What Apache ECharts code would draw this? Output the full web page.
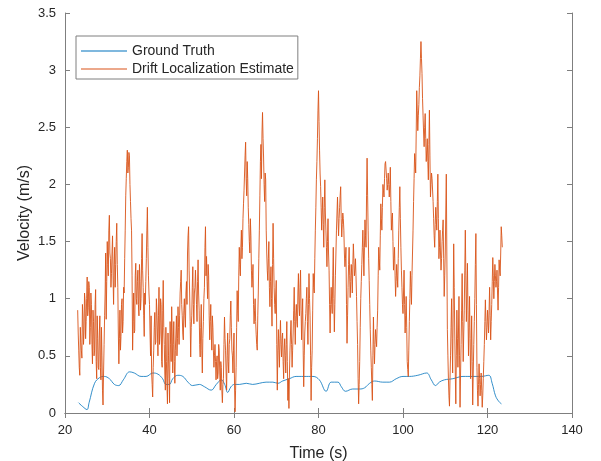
<!DOCTYPE html>
<html>
<head>
<meta charset="utf-8">
<script src="https://cdn.jsdelivr.net/npm/echarts@6/dist/echarts.min.js"></script>
<style>
html,body{margin:0;padding:0;background:#fff;}
#chart{width:601px;height:461px;}
</style>
</head>
<body>
<div id="chart"></div>
<script>
// Axis ticks
const xTicks = [20, 40, 60, 80, 100, 120, 140];
const yTicks = [0, 0.5, 1, 1.5, 2, 2.5, 3, 3.5];

// Ground truth (time s, velocity m/s)
const gtTime = [23.2, 24.2, 25.2, 25.7, 27.0, 28.2, 29.3, 30.5, 31.7, 32.7, 33.8, 35.3, 36.4, 38.0, 39.2, 40.8, 42.0, 43.1, 43.9, 44.7, 45.5, 46.7, 47.9, 49.1, 50.2, 51.8, 53.0, 54.6, 55.8, 57.0, 57.8, 58.5, 59.3, 60.1, 61.3, 62.9, 64.4, 66.0, 67.6, 69.2, 70.4, 71.5, 73.1, 74.7, 76.5, 78.7, 80.2, 81.8, 83.0, 84.6, 85.4, 86.4, 88.1, 89.7, 90.9, 92.1, 93.3, 95.2, 96.8, 98.4, 100.0, 101.5, 103.5, 105.6, 106.7, 107.7, 108.6, 109.8, 111.8, 114.2, 116.5, 118.5, 120.3, 121.1, 121.9, 122.7, 123.3];
const gtVel = [0.09, 0.056, 0.03, 0.09, 0.26, 0.31, 0.32, 0.30, 0.25, 0.24, 0.29, 0.36, 0.35, 0.32, 0.32, 0.35, 0.34, 0.30, 0.25, 0.25, 0.30, 0.33, 0.32, 0.27, 0.24, 0.25, 0.23, 0.20, 0.25, 0.29, 0.25, 0.18, 0.23, 0.25, 0.25, 0.26, 0.25, 0.26, 0.27, 0.27, 0.26, 0.28, 0.30, 0.32, 0.32, 0.32, 0.29, 0.19, 0.27, 0.27, 0.23, 0.19, 0.21, 0.21, 0.22, 0.26, 0.28, 0.27, 0.27, 0.30, 0.32, 0.32, 0.33, 0.35, 0.29, 0.24, 0.27, 0.29, 0.30, 0.32, 0.32, 0.32, 0.33, 0.26, 0.15, 0.10, 0.08];

// Drift localization estimate: samples at 23.000 + k*0.25 s
const estStartA = 23;
const estStep = 0.25;
const estVelA = [
  0.90, 0.55, 0.33, 0.62,  0.48, 0.85, 0.70, 0.98,  0.80, 1.19, 0.92, 1.10,  0.75, 0.95, 0.43, 0.80,
  0.55, 1.08, 0.30, 0.65,  0.38, 0.85, 0.29, 0.50,  0.07, 0.60, 1.05, 0.82,  1.50, 1.20, 1.73, 1.35,
  1.22, 1.55, 0.95, 1.45,  1.30, 1.66, 1.10, 0.43,  0.90, 0.67, 1.00, 0.80,  1.05, 1.60, 2.05, 2.30,
  2.15, 2.25, 1.85, 1.60,  0.55, 1.05, 0.72, 1.31,  0.95, 1.25, 0.85, 1.15,  1.00, 1.57, 1.10, 0.67,
  0.95, 1.35, 1.80, 1.20,  0.95, 0.50, 0.35, 0.14,  0.55, 0.88, 0.62, 0.90,  0.50, 1.10, 0.70, 0.95,
  0.40, 1.16, 0.60, 0.20,  0.45, 0.08, 0.50, 0.09,  0.60, 0.93, 0.35, 0.80,  0.26, 0.70, 0.50, 0.93,
  0.60, 1.05, 1.25, 0.85,  0.64, 1.00, 0.75, 1.15,  1.40, 1.63, 1.05, 0.49,  0.85, 1.28, 0.78, 1.10,
  1.25, 0.80, 1.34, 0.90,  0.49, 0.95, 0.35, 0.80,  1.10, 1.63, 1.37, 1.00,  1.20, 0.64, 0.95, 0.55,
  0.75, 0.40, 0.60, 0.29,  0.50, 0.35, 0.55, 0.20,  0.40, 0.09, 0.30, 0.84,  0.55, 0.20, 0.70, 0.35,
  0.65, 0.98, 0.55, 0.35,  0.70, 0.01, 0.40, 1.07,  0.80, 1.45, 1.20, 1.60,  1.45, 1.83, 2.10, 2.37,
  1.90, 2.05, 1.65, 1.40,  1.55, 1.10, 1.30, 0.78,  1.00, 0.69, 0.55, 1.05,  1.60, 2.20, 2.05, 2.63,
  2.24, 1.85, 2.04, 1.40,  1.16, 1.50, 0.93, 1.28,  0.76, 1.66, 1.10, 0.87,  1.16, 0.20, 0.73, 0.40,
  0.81, 0.49, 0.70, 0.30,  0.65, 0.35, 0.80, 0.11,  0.04, 0.55, 0.81, 0.40,  0.70, 1.10, 0.60, 0.95,
  0.75, 1.22, 0.85, 1.25,  0.64, 1.00, 0.23, 0.70,  0.87, 1.10, 0.60, 1.22,  0.85, 0.11, 0.55, 1.22,
  1.05, 1.60, 2.04, 2.40,  2.82, 2.30, 1.98, 1.60,  1.89, 1.45, 2.04, 1.60,  1.28, 1.70, 1.25, 0.70,
  1.10, 0.87, 1.45, 0.71,  1.20, 1.60, 1.89, 1.55,  1.80, 1.98, 1.54, 1.75,  1.60, 1.28, 1.45, 0.61,
  1.10, 1.45, 1.01, 1.30,  1.05, 1.48, 1.20, 1.35,  1.02, 0.60, 0.08, 0.45,  1.00, 1.30, 1.60, 1.20,
  1.69, 1.45, 2.23, 1.60,  1.16, 0.73, 0.40, 0.11,  0.84, 0.43, 0.73, 0.58,  0.90, 1.45, 1.25, 1.83,
  1.60, 2.00, 1.89, 2.18,  2.21, 1.95, 2.10, 1.89,  2.15, 1.60, 1.75, 1.25,  1.45, 1.02, 1.30, 1.10,
  1.60, 1.98, 1.45, 1.10,  0.87, 1.25, 0.70, 1.02,  0.45, 0.32, 0.80, 1.24,  0.95, 1.40, 1.85, 2.27,
  2.10, 2.82, 2.47, 2.70,  2.95, 3.25, 2.97, 2.60,  2.33, 2.62, 2.20, 2.40,  2.04, 2.65, 1.89, 2.10,
  2.04, 1.70, 1.45, 1.80,  1.60, 2.09, 1.35, 1.60,  1.25, 1.50, 1.69, 1.02,  1.40, 2.09, 0.73, 0.30,
  0.06, 0.50, 1.00, 0.35,  1.48, 0.70, 0.08, 0.90,  0.40, 1.02, 0.05, 0.60,  1.22, 0.45, 0.90, 1.60,
  0.80, 1.31, 0.50, 1.02,  0.30, 0.85, 0.07, 0.60,  1.00, 1.57, 0.40, 0.06,  0.43, 0.15, 0.35, 0.05,
  0.30, 0.60, 0.99, 0.64,  0.90, 0.70, 1.10, 0.64,  0.95, 1.36, 1.00, 1.30,  1.10, 1.25, 0.90, 1.34,
  1.20, 1.63, 1.45
];
// Drift localization estimate: samples at 23.125 + k*0.25 s
const estStartB = 23.125;
const estVelB = [
  0.70, 0.40, 0.75, 0.55,  0.95, 0.60, 1.05, 0.65,  1.00, 0.85, 1.15, 0.60,  1.05, 0.60, 0.90, 0.50,
  0.95, 0.45, 0.85, 0.40,  0.70, 0.40, 0.75, 0.20,  0.35, 0.85, 1.40, 1.15,  1.30, 1.60, 1.40, 1.10,
  1.40, 1.20, 1.30, 1.10,  1.50, 1.30, 0.70, 0.65,  0.55, 0.95, 0.70, 1.10,  1.35, 1.90, 2.20, 2.10,
  2.28, 2.00, 1.70, 1.20,  0.80, 0.70, 1.20, 1.00,  1.15, 0.95, 1.30, 0.90,  1.35, 1.25, 0.85, 1.05,
  1.15, 1.60, 1.45, 1.05,  0.70, 0.85, 0.25, 0.40,  0.75, 0.60, 1.00, 0.70,  0.85, 0.60, 1.00, 0.45,
  0.90, 0.75, 0.35, 0.75,  0.25, 0.70, 0.30, 0.80,  0.45, 0.70, 0.60, 0.45,  0.55, 0.85, 0.65, 0.75,
  0.85, 1.15, 0.95, 0.70,  0.90, 0.85, 1.05, 0.95,  1.55, 1.25, 0.80, 0.75,  1.10, 0.95, 1.05, 1.25,
  0.95, 1.15, 1.05, 0.60,  0.75, 0.55, 0.65, 1.00,  1.45, 1.20, 1.15, 1.30,  0.85, 0.80, 0.70, 0.85,
  0.55, 0.50, 0.45, 0.45,  0.30, 0.60, 0.35, 0.45,  0.20, 0.25, 0.60, 0.65,  0.35, 0.50, 0.45, 0.60,
  0.85, 0.75, 0.50, 0.55,  0.25, 0.20, 0.75, 0.90,  1.20, 1.30, 1.45, 1.35,  1.70, 1.95, 2.25, 2.05,
  2.20, 1.80, 1.50, 1.70,  1.25, 1.20, 0.95, 0.90,  0.80, 0.60, 0.85, 1.35,  1.90, 2.35, 2.45, 2.40,
  2.00, 2.10, 1.60, 1.25,  1.35, 1.10, 1.15, 1.00,  1.30, 1.35, 0.95, 1.05,  0.60, 0.55, 0.55, 0.65,
  0.60, 0.65, 0.45, 0.55,  0.50, 0.60, 0.45, 0.30,  0.35, 0.70, 0.60, 0.55,  0.90, 0.80, 0.85, 0.80,
  1.05, 0.95, 1.10, 0.90,  0.85, 0.55, 0.50, 0.80,  1.00, 0.80, 0.95, 1.00,  0.50, 0.40, 0.90, 1.10,
  1.35, 1.80, 2.20, 2.65,  2.55, 2.10, 1.80, 1.75,  1.65, 1.80, 1.75, 1.45,  1.50, 1.40, 0.95, 0.95,
  0.95, 1.20, 1.00, 0.95,  1.40, 1.75, 1.70, 1.70,  1.90, 1.70, 1.65, 1.70,  1.40, 1.35, 0.95, 0.85,
  1.30, 1.20, 1.15, 1.20,  1.30, 1.35, 1.25, 1.20,  0.80, 0.30, 0.25, 0.75,  1.15, 1.45, 1.40, 1.45,
  1.55, 1.90, 1.90, 1.35,  0.95, 0.55, 0.25, 0.50,  0.60, 0.60, 0.65, 0.75,  1.20, 1.35, 1.55, 1.70,
  1.80, 1.95, 2.05, 2.20,  2.05, 2.00, 2.00, 2.00,  1.85, 1.70, 1.50, 1.35,  1.20, 1.15, 1.20, 1.35,
  1.80, 1.70, 1.25, 0.95,  1.05, 0.95, 0.85, 0.75,  0.38, 0.55, 1.00, 1.10,  1.20, 1.60, 2.05, 2.20,
  2.45, 2.65, 2.60, 2.85,  3.10, 3.10, 2.75, 2.45,  2.50, 2.40, 2.30, 2.20,  2.35, 2.25, 2.00, 2.05,
  1.85, 1.55, 1.65, 1.70,  1.85, 1.70, 1.45, 1.40,  1.35, 1.60, 1.35, 1.20,  1.75, 1.40, 0.50, 0.15,
  0.30, 0.75, 0.65, 0.90,  1.10, 0.35, 0.50, 0.65,  0.70, 0.50, 0.35, 0.90,  0.80, 0.70, 1.25, 1.20,
  1.05, 0.90, 0.75, 0.65,  0.55, 0.45, 0.35, 0.80,  1.30, 0.95, 0.20, 0.25,  0.30, 0.25, 0.20, 0.15,
  0.45, 0.80, 0.80, 0.75,  0.80, 0.90, 0.85, 0.80,  1.15, 1.20, 1.15, 1.20,  1.15, 1.05, 1.10, 1.25,
  1.40, 1.55
];

const seriesNames = ['Ground Truth', 'Drift Localization Estimate'];
const xTitle = 'Time (s)';
const yTitle = 'Velocity (m/s)';

const gtData = gtTime.map((t, i) => [t, gtVel[i]]);
const estData = [];
estVelA.forEach((v, i) => {
  estData.push([estStartA + i * estStep, v]);
  if (i < estVelB.length) estData.push([estStartB + i * estStep, estVelB[i]]);
});

const FONT = '"Liberation Sans", Arial, sans-serif';
const TXT = '#262626';
const AX = '#7f7f7f';

const chart = echarts.init(document.getElementById('chart'), null, {renderer: 'canvas'});
const xMin = xTicks[0], xMax = xTicks[xTicks.length - 1], xInt = xTicks[1] - xTicks[0];
const yMin = yTicks[0], yMax = yTicks[yTicks.length - 1], yInt = yTicks[1] - yTicks[0];

const baseAxis = {
  axisLine: {show: true, lineStyle: {color: AX, width: 1}},
  axisTick: {show: true, inside: true, length: 5, lineStyle: {color: AX, width: 1}},
  splitLine: {show: false}
};

chart.setOption({
  animation: false,
  backgroundColor: '#ffffff',
  grid: {left: 65, right: 29, top: 13, bottom: 48, containLabel: false, outerBoundsMode: 'none'},
  legend: {
    data: seriesNames,
    orient: 'vertical',
    left: 76, top: 36,
    icon: 'rect',
    itemWidth: 46, itemHeight: 1, itemGap: 4,
    padding: [8, 4, 3, 5],
    borderColor: '#7f7f7f', borderWidth: 1,
    backgroundColor: '#ffffff',
    textStyle: {color: TXT, fontSize: 14, fontFamily: FONT}
  },
  xAxis: [
    Object.assign({}, baseAxis, {
      type: 'value', min: xMin, max: xMax, interval: xInt, position: 'bottom',
      name: xTitle, nameLocation: 'middle', nameGap: 33,
      nameTextStyle: {color: TXT, fontSize: 16, fontFamily: FONT},
      axisLabel: {color: TXT, fontSize: 13, fontFamily: FONT, margin: 11}
    }),
    Object.assign({}, baseAxis, {
      type: 'value', min: xMin, max: xMax, interval: xInt, position: 'top',
      axisLabel: {show: false}
    })
  ],
  yAxis: [
    Object.assign({}, baseAxis, {
      type: 'value', min: yMin, max: yMax, interval: yInt, position: 'left',
      name: yTitle, nameLocation: 'middle', nameGap: 32, nameMoveOverlap: false,
      nameTextStyle: {color: TXT, fontSize: 16, fontFamily: FONT},
      axisLabel: {color: TXT, fontSize: 13, fontFamily: FONT, margin: 9}
    }),
    Object.assign({}, baseAxis, {
      type: 'value', min: yMin, max: yMax, interval: yInt, position: 'right',
      axisLabel: {show: false}
    })
  ],
  series: [
    {
      name: seriesNames[0], type: 'line', data: gtData,
      xAxisIndex: 0, yAxisIndex: 0,
      symbol: 'none', smooth: 0.4,
      lineStyle: {color: '#0072BD', width: 0.8},
      itemStyle: {color: '#0072BD'}
    },
    {
      name: seriesNames[1], type: 'line', data: estData,
      xAxisIndex: 0, yAxisIndex: 0,
      symbol: 'none',
      lineStyle: {color: '#D95319', width: 0.9},
      itemStyle: {color: '#D95319'}
    }
  ]
});
</script>
</body>
</html>
